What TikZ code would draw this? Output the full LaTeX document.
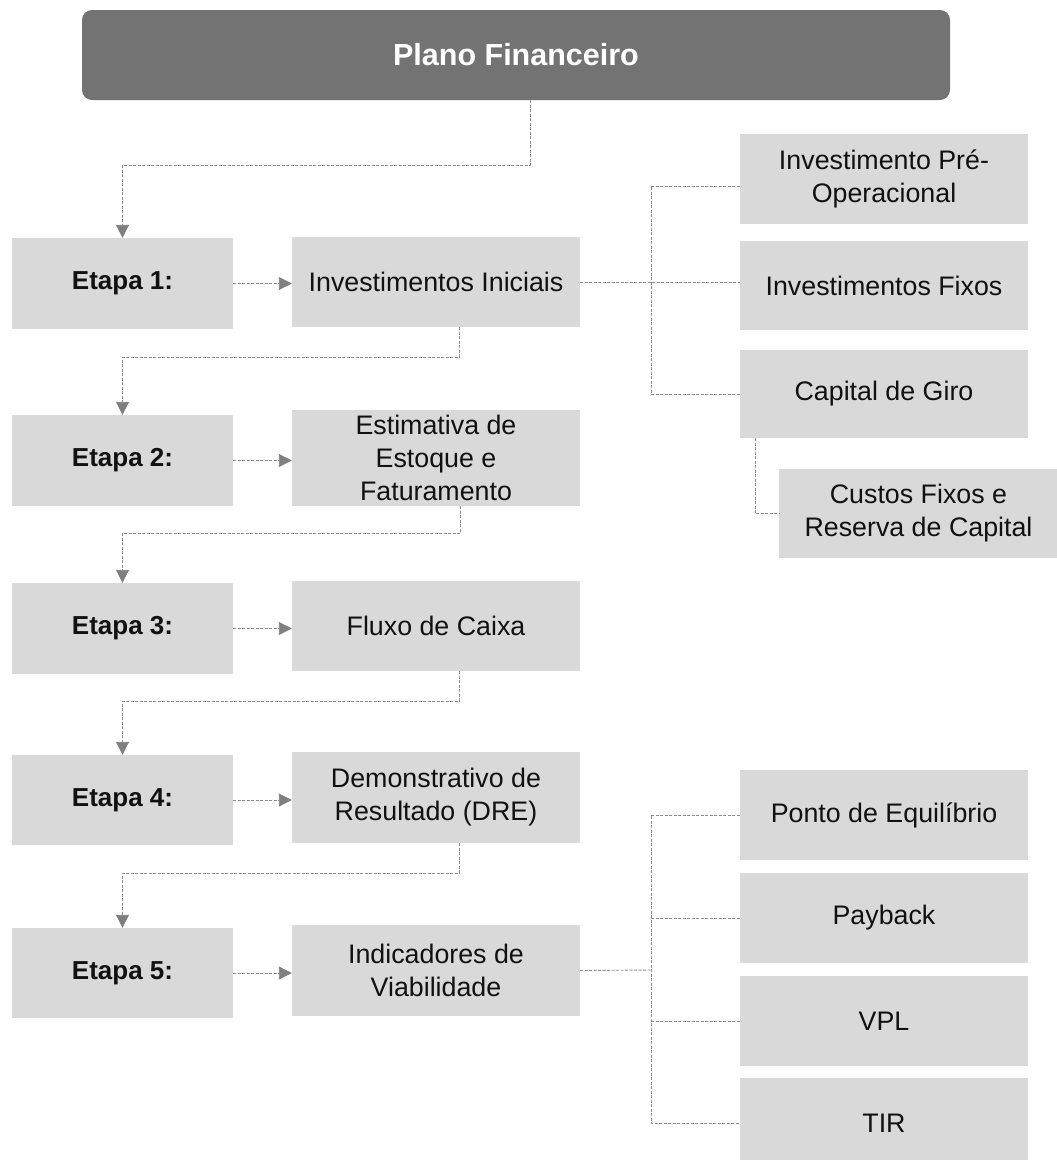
\documentclass[tikz,border=0pt]{standalone}
\usepackage{fontspec}
\setmainfont{Liberation Sans}
\usetikzlibrary{arrows.meta}
\definecolor{boxgray}{HTML}{D9D9D9}
\definecolor{titlegray}{HTML}{737373}
\definecolor{linegray}{HTML}{8C8C8C}
\definecolor{arrowgray}{HTML}{7F7F7F}
\definecolor{txt}{HTML}{111111}
\begin{document}
\begin{tikzpicture}[x=1pt,y=-1pt,
  gbox/.style={fill=boxgray, draw=none, inner sep=0pt, align=center,
    font=\fontsize{26.8}{33}\selectfont, text=txt},
  etapa/.style={gbox, minimum width=221pt, minimum height=91pt,
    font=\fontsize{26}{32.5}\selectfont\bfseries},
  mid/.style={gbox, minimum width=288pt},
  side/.style={gbox, minimum width=288pt},
  titlebox/.style={fill=titlegray, draw=none, rounded corners=10pt, inner sep=0pt,
    minimum width=868pt, minimum height=90pt, text=white,
    font=\fontsize{30.5}{36}\selectfont\bfseries},
  conn/.style={draw=linegray, line width=0.9pt, dash pattern=on 3pt off 1.5pt},
  arr/.style={conn, -{Triangle[length=13pt,width=13pt,fill=arrowgray,color=arrowgray]}}]
\useasboundingbox (0,0) rectangle (1057,1160);
\clip (0,0) rectangle (1057,1160);

% title
\node[titlebox] (title) at (516,55) {Plano Financeiro};

% stage boxes
\node[etapa] (e1) at (122.5,283.5) {Etapa 1:};
\node[etapa] (e2) at (122.5,460.5) {Etapa 2:};
\node[etapa] (e3) at (122.5,628.5) {Etapa 3:};
\node[etapa, minimum height=90pt] (e4) at (122.5,800) {Etapa 4:};
\node[etapa, minimum height=90pt] (e5) at (122.5,973) {Etapa 5:};

% middle column
\node[mid, minimum height=90pt] (ii) at (436,282) {Investimentos Iniciais};
\node[mid, minimum height=96pt] (est) at (436,458) {Estimativa de\\Estoque e\\Faturamento};
\node[mid, minimum height=90pt] (fc) at (436,626) {Fluxo de Caixa};
\node[mid, minimum height=91pt] (dre) at (436,797.5) {Demonstrativo de\\Resultado (DRE)};
\node[mid, minimum height=91pt] (ind) at (436,970.5) {Indicadores de\\Viabilidade};

% right column, group 1
\node[side, minimum height=90pt] (ipo) at (884,179) {Investimento Pré-\\Operacional};
\node[side, minimum height=89pt] (ifx) at (884,285.5) {Investimentos Fixos};
\node[side, minimum height=88pt] (cg) at (884,394) {Capital de Giro};
\node[gbox, minimum width=279pt, minimum height=89pt] (cfr) at (918.5,513.5) {Custos Fixos e\\Reserva de Capital};

% right column, group 2
\node[side, minimum height=90pt] (pe) at (884,815) {Ponto de Equilíbrio};
\node[side, minimum height=90pt] (pb) at (884,918) {Payback};
\node[side, minimum height=90pt] (vpl) at (884,1021) {VPL};
\node[side, minimum height=90pt] (tir) at (884,1123) {TIR};

% hubs
\coordinate (hubA) at (651,282);
\coordinate (hubB) at (651,970);

% title to stage 1
\draw[arr] ([xshift=14pt]title.south) -- ++(0,65) -| (e1.north);

% stage arrows
\draw[arr] (e1.east) -- (e1.east -| ii.west);
\draw[arr] (e2.east) -- (e2.east -| est.west);
\draw[arr] (e3.east) -- (e3.east -| fc.west);
\draw[arr] (e4.east) -- (e4.east -| dre.west);
\draw[arr] (e5.east) -- (e5.east -| ind.west);

% stage to next stage
\draw[arr] ([xshift=23pt]ii.south) -- ++(0,30) -| (e2.north);
\draw[arr] ([xshift=24pt]est.south) -- ++(0,27) -| (e3.north);
\draw[arr] ([xshift=23pt]fc.south) -- ++(0,30) -| (e4.north);
\draw[arr] ([xshift=23pt]dre.south) -- ++(0,30) -| (e5.north);

% group 1 tree
\draw[conn] (ii.east) -- (ii.east -| ifx.west);
\draw[conn] ([yshift=-7pt]ipo.west) -| (hubA |- cg.west) -- (cg.west);
\draw[conn] ([xshift=-129pt]cg.south) |- (cfr.west);

% group 2 tree
\draw[conn] (ind.east) -- (hubB);
\draw[conn] (pe.west) -| (hubB |- tir.west) -- (tir.west);
\draw[conn] (pb.west) -- (pb.west -| hubB);
\draw[conn] (vpl.west) -- (vpl.west -| hubB);
\end{tikzpicture}
\end{document}
